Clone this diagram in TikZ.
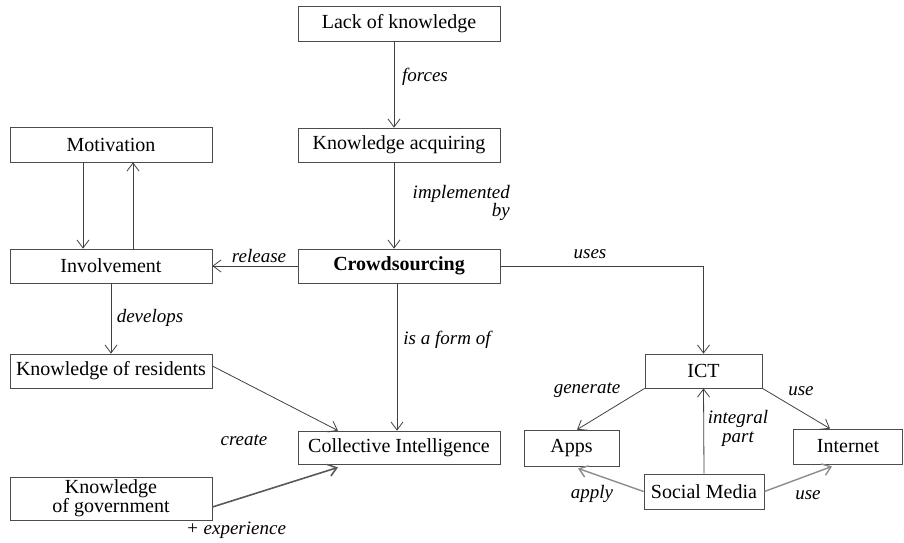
\documentclass[tikz,border=0pt]{standalone}
\usepackage{fontspec}
\setmainfont{Liberation Serif}
\usetikzlibrary{arrows.meta}
\tikzset{
  box/.style={draw=black!70, line width=0.8pt, minimum width=202pt, minimum height=34pt,
    inner sep=2pt, font=\fontsize{20}{17}\selectfont, align=center},
  lbl/.style={font=\fontsize{19}{17}\selectfont\itshape, inner sep=0pt, align=center},
  arr/.style={draw=black!75, line width=0.8pt, -{Straight Barb[length=8pt,width=12pt]}},
  grayarr/.style={arr, draw=black!65, line width=1.6pt},
  lightarr/.style={arr, draw=black!45, line width=1.4pt}
}
\begin{document}
\begin{tikzpicture}[x=1pt,y=-1pt]
      \useasboundingbox (0,0) rectangle (904,542);
      % concept boxes
      \node[box, minimum height=35pt] (lack) at (399,23.5) {Lack of knowledge};
      \node[box] (acq) at (399,145) {Knowledge acquiring};
      \node[box, font=\fontsize{20}{17}\selectfont\bfseries] (crowd) at (399,266) {Crowdsourcing};
      \node[box, minimum height=35pt] (motiv) at (111,144.5) {Motivation};
      \node[box] (invol) at (111,266) {Involvement};
      \node[box] (kres) at (111,371) {Knowledge of residents};
      \node[box, minimum height=43pt] (kgov) at (111,498.5) {Knowledge\\of government};
      \node[box, minimum height=33pt] (ci) at (399,447.5) {Collective Intelligence};
      \node[box, minimum width=117pt] (ict) at (703.5,371) {ICT};
      \node[box, minimum width=95pt, minimum height=36pt] (apps) at (571.5,448) {Apps};
      \node[box, minimum width=109pt, minimum height=35pt] (inet) at (848,446.5) {Internet};
      \node[box, minimum width=120pt, minimum height=35pt] (smedia) at (704,491.5) {Social Media};
      % connectors
      \draw[arr] ([xshift=-5pt]lack.south) -- ([xshift=-5pt]acq.north);
      \draw[arr] ([xshift=-5pt]acq.south) -- ([xshift=-5pt]crowd.north);
      \draw[arr] ([xshift=-2pt]crowd.south) -- ([xshift=-2pt]ci.north);
      \draw[arr] ([xshift=-28pt]motiv.south) -- ([xshift=-28pt]invol.north);
      \draw[arr] ([xshift=22pt]invol.north) -- ([xshift=22pt]motiv.south);
      \draw[arr] (crowd.west) -- (invol.east);
      \draw[arr] (invol.south) -- (kres.north);
      \draw[arr] ([yshift=5pt]kres.east) -- ([xshift=-61pt]ci.north);
      \draw[grayarr] ([yshift=-8.5pt]kgov.east) -- ([xshift=-61pt,yshift=-3pt]ci.south);
      \draw[arr] (crowd.east) -| (ict.north);
      \draw[arr] (ict.south west) -- ([xshift=5.5pt]apps.north);
      \draw[arr] (ict.south east) -- ([xshift=-18pt]inet.north);
      \draw[arr] (smedia.north) -- (ict.south);
      \draw[lightarr] (smedia.west) -- ([xshift=6.5pt,yshift=-2pt]apps.south);
      \draw[lightarr] (smedia.east) -- ([xshift=-16pt,yshift=-2pt]inet.south);
      % connector labels
      \node[lbl] (lforces) at (425,77) {forces};
      \node[lbl, align=right, anchor=east] (limpl) at (510,203) {implemented\\by};
      \node[lbl] (lform) at (447,340) {is a form of};
      \node[lbl] (lrelease) at (259,256) {release};
      \node[lbl] (ldevelops) at (150,318) {develops};
      \node[lbl] (luses) at (590,254) {uses};
      \node[lbl] (lcreate) at (244,440) {create};
      \node[lbl] (lexp) at (236,530) {+ experience};
      \node[lbl] (lgenerate) at (587,390) {generate};
      \node[lbl] (luse) at (801,391) {use};
      \node[lbl, font=\fontsize{19}{19}\selectfont\itshape] (lintegral) at (738,428) {integral\\part};
      \node[lbl] (lapply) at (592,494) {apply};
      \node[lbl] (luse2) at (808,495) {use};
    \end{tikzpicture}
\end{document}
